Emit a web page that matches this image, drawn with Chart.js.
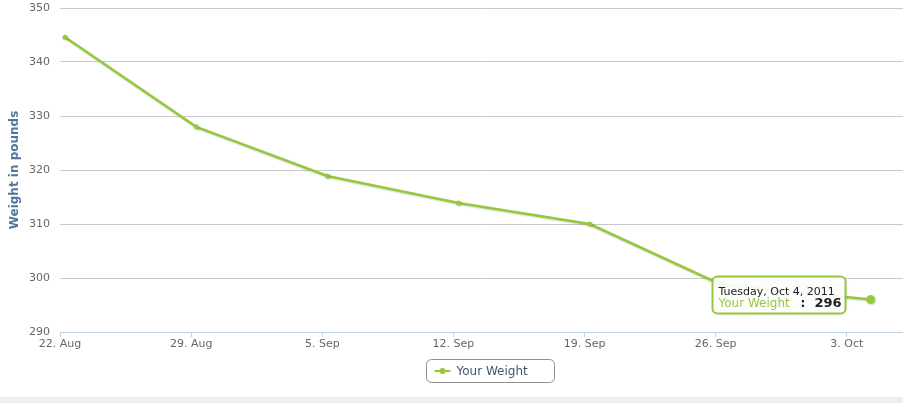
<!DOCTYPE html>
<html>
<head>
<meta charset="utf-8">
<script src="https://cdn.jsdelivr.net/npm/chart.js@4.4.1/dist/chart.umd.min.js"></script>
<style>
  html, body { margin: 0; padding: 0; background: #ffffff; overflow: hidden; }
  #wrap { position: relative; width: 903px; height: 397px; background: #ffffff; }
  #strip { width: 903px; height: 6px; background: #eeeeee; }
</style>
</head>
<body>
<div id="wrap"><canvas id="c"></canvas></div>
<div id="strip"></div>
<script>
// ---- data ----
const tickLabels = ['22. Aug', '29. Aug', '5. Sep', '12. Sep', '19. Sep', '26. Sep', '3. Oct'];
const tickDays = [0, 7, 14, 21, 28, 35, 42];          // days after 22 Aug 2011
const pointDays = [0.27, 7.27, 14.27, 21.27, 28.27, 35.27, 43.27];
const pointDates = ['Monday, Aug 22, 2011', 'Monday, Aug 29, 2011', 'Monday, Sep 5, 2011',
  'Monday, Sep 12, 2011', 'Monday, Sep 19, 2011', 'Monday, Sep 26, 2011', 'Tuesday, Oct 4, 2011'];
const weights = [344.6, 328.0, 318.9, 313.9, 310.0, 298.8, 296];
const seriesName = 'Your Weight';
const yTitle = 'Weight in pounds';
const activeIndex = 6;

const GREEN = '#96c83c';
const FONT = '"DejaVu Sans", Verdana, sans-serif';

const shadowPlugin = {
  id: 'lineShadow',
  beforeDatasetDraw(chart) {
    const ctx = chart.ctx;
    ctx.save();
    ctx.shadowColor = 'rgba(0,0,0,0.18)';
    ctx.shadowBlur = 2;
    ctx.shadowOffsetX = 1;
    ctx.shadowOffsetY = 1;
  },
  afterDatasetDraw(chart) { chart.ctx.restore(); }
};

function roundRect(ctx, x, y, w, h, r) {
  ctx.beginPath();
  ctx.moveTo(x + r, y);
  ctx.lineTo(x + w - r, y);
  ctx.arcTo(x + w, y, x + w, y + r, r);
  ctx.lineTo(x + w, y + h - r);
  ctx.arcTo(x + w, y + h, x + w - r, y + h, r);
  ctx.lineTo(x + r, y + h);
  ctx.arcTo(x, y + h, x, y + h - r, r);
  ctx.lineTo(x, y + r);
  ctx.arcTo(x, y, x + r, y, r);
  ctx.closePath();
}

const overlayPlugin = {
  id: 'overlay',
  afterDraw(chart) {
    const ctx = chart.ctx;
    const ca = chart.chartArea;
    // legend
    const lx = Math.round((ca.left + ca.right) / 2 - 56) + 0.5;
    const ly = 359.5;
    ctx.save();
    roundRect(ctx, lx, ly, 128, 23, 5);
    ctx.fillStyle = '#ffffff';
    ctx.fill();
    ctx.strokeStyle = '#909090';
    ctx.lineWidth = 1;
    ctx.stroke();
    const sy = ly + 11.5;
    ctx.strokeStyle = GREEN;
    ctx.lineWidth = 2;
    ctx.beginPath();
    ctx.moveTo(lx + 8, sy);
    ctx.lineTo(lx + 24, sy);
    ctx.stroke();
    ctx.fillStyle = GREEN;
    ctx.beginPath();
    ctx.arc(lx + 16, sy, 3, 0, Math.PI * 2);
    ctx.fill();
    ctx.fillStyle = '#3E576F';
    ctx.font = '12px ' + FONT;
    ctx.textBaseline = 'middle';
    ctx.textAlign = 'left';
    ctx.fillText(chart.data.datasets[0].label, lx + 30, sy + 1);
    ctx.restore();

    // tooltip for active point
    const pt = chart.getDatasetMeta(0).data[activeIndex];
    const w = 133, h = 37;
    const tx = Math.round(pt.x - 26 - w) + 0.5;
    const ty = Math.round(pt.y - 24) + 0.5;
    ctx.save();
    ctx.shadowColor = 'rgba(0,0,0,0.15)';
    ctx.shadowBlur = 3;
    ctx.shadowOffsetX = 1;
    ctx.shadowOffsetY = 1;
    roundRect(ctx, tx, ty, w, h, 5);
    ctx.fillStyle = 'rgba(255,255,255,0.92)';
    ctx.fill();
    ctx.shadowColor = 'transparent';
    ctx.strokeStyle = GREEN;
    ctx.lineWidth = 2;
    ctx.stroke();
    ctx.textBaseline = 'alphabetic';
    ctx.textAlign = 'left';
    ctx.fillStyle = '#222222';
    ctx.font = '11px ' + FONT;
    ctx.fillText(pointDates[activeIndex], tx + 6, ty + 18);
    ctx.fillStyle = GREEN;
    ctx.font = '12px ' + FONT;
    ctx.fillText(seriesName, tx + 6, ty + 30);
    ctx.fillStyle = '#222222';
    ctx.font = 'bold 12px ' + FONT;
    ctx.fillText(':', tx + 88, ty + 30);
    ctx.font = 'bold 13px ' + FONT;
    ctx.fillText(String(weights[activeIndex]), tx + 102, ty + 30);
    ctx.restore();
  }
};

new Chart(document.getElementById('c'), {
  type: 'line',
  data: {
    datasets: [{
      label: seriesName,
      data: pointDays.map((d, i) => ({ x: d, y: weights[i] })),
      borderColor: GREEN,
      backgroundColor: GREEN,
      borderWidth: 2.5,
      pointRadius: ctx => ctx.dataIndex === activeIndex ? 4.5 : 2.5,
      pointBorderWidth: 0,
      pointBackgroundColor: GREEN,
      tension: 0,
      fill: false
    }]
  },
  options: {
    responsive: true,
    maintainAspectRatio: false,
    animation: false,
    events: [],
    layout: { autoPadding: false, padding: { top: 0, right: 0, bottom: 45, left: 0 } },
    plugins: {
      legend: { display: false },
      tooltip: { enabled: false }
    },
    scales: {
      x: {
        type: 'linear',
        min: 0,
        max: 45,
        afterBuildTicks: s => { s.ticks = tickDays.map(v => ({ value: v })); },
        afterFit: s => { s.height = 20; s.paddingLeft = 0; s.paddingRight = 0; },
        ticks: {
          callback: v => tickLabels[tickDays.indexOf(v)],
          color: '#666666',
          font: { family: FONT, size: 11 },
          padding: 1,
          maxRotation: 0,
          autoSkip: false
        },
        grid: { drawOnChartArea: false, drawTicks: true, tickLength: 5, color: '#C0D0E0' },
        border: { color: '#C0D0E0', width: 1 }
      },
      y: {
        min: 290,
        max: 350,
        afterFit: s => { s.width = 60; s.paddingTop = 8; s.paddingBottom = 0; },
        ticks: {
          stepSize: 10,
          color: '#666666',
          font: { family: FONT, size: 11 },
          padding: 10
        },
        grid: { color: '#C8C8C8', drawTicks: false },
        border: { display: false },
        title: {
          display: true,
          text: yTitle,
          color: '#4d759e',
          font: { family: FONT, size: 12, weight: 'bold' },
          padding: { top: 8, bottom: 0 }
        }
      }
    }
  },
  plugins: [shadowPlugin, overlayPlugin]
});
</script>
</body>
</html>
